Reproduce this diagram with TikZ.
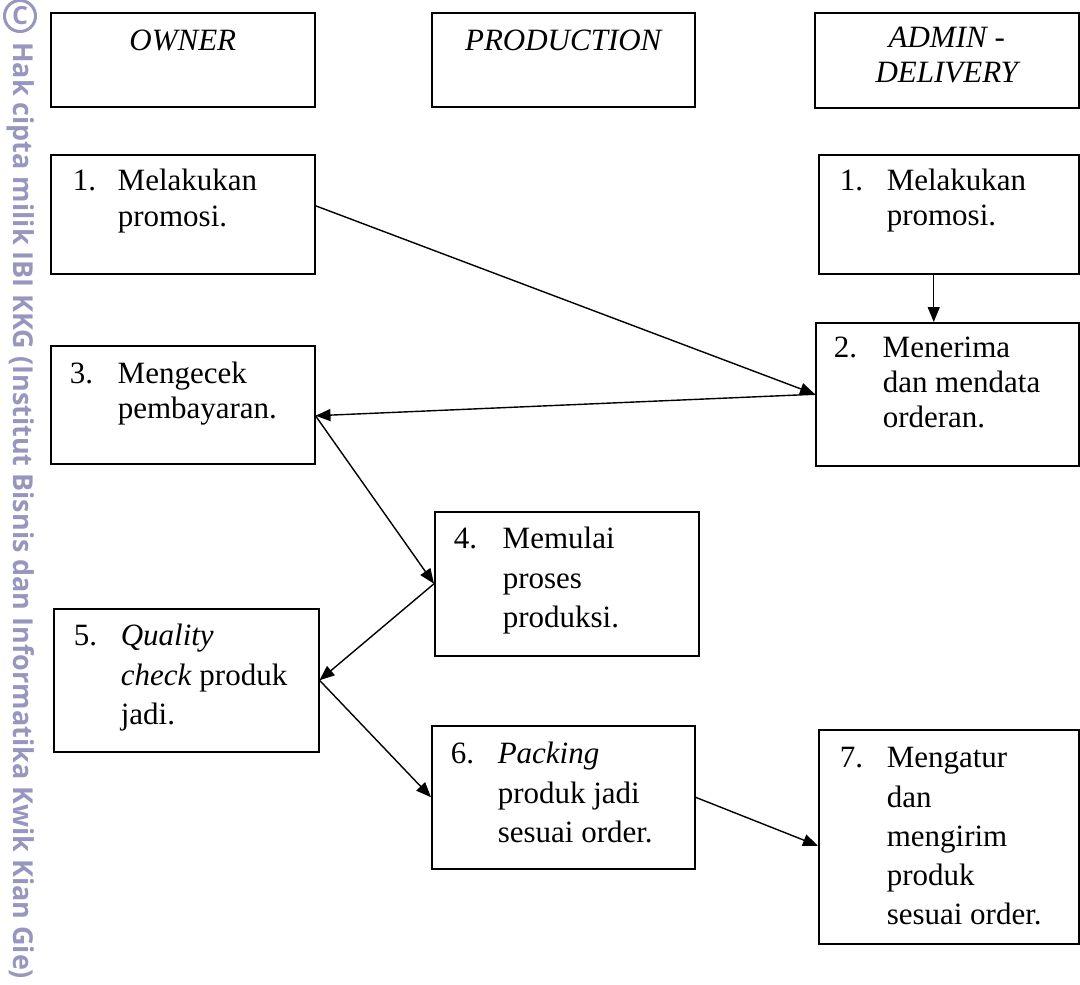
\documentclass[tikz,border=0pt]{standalone}
\usepackage{fontspec}
\setmainfont{Liberation Serif}
\newfontfamily\wmfont{Open Sans}
\usepackage{graphicx}
\usetikzlibrary{arrows.meta}
\definecolor{wm}{RGB}{150,150,190}
% #1 W, #2 H, #3 first baseline from top, #4 number x, #5 text x, #6 baselineskip, #7 number, #8 lines
\newcommand\boxtxt[8]{\parbox[t][#2pt][t]{#1pt}{\vspace*{\dimexpr#3pt-25pt\relax}%
\hspace*{#4pt}\rule{0pt}{25pt}\makebox[\dimexpr#5pt-#4pt\relax][l]{#7}%
\parbox[t]{\dimexpr#1pt-#5pt\relax}{\fontsize{31}{#6}\selectfont #8}}}
% #1 W, #2 H, #3 first baseline from top, #4 text
\newcommand\hdrtxt[4]{\parbox[t][#2pt][t]{#1pt}{\vspace*{\dimexpr#3pt-25pt\relax}%
\centering\itshape\rule{0pt}{25pt}#4}}
\begin{document}
\begin{tikzpicture}[x=1pt,y=-1pt,
  bx/.style={draw, line width=1.5pt, inner sep=0pt, anchor=north west,
    font=\fontsize{31}{35}\selectfont},
  arr/.style={line width=1.4pt, -{Triangle[length=15pt,width=12pt]}}]
\useasboundingbox (0,0) rectangle (1080,985);
% watermark
\node[circle, draw=wm, line width=3pt, minimum size=31pt, inner sep=0pt, text=wm,
  font=\wmfont\bfseries\fontsize{25}{25}\selectfont] (cc) at (20,16) {C};
\node[rotate=-90, anchor=base west, inner sep=0pt, text=wm, font=\wmfont\bfseries] (wmtext) at (13,42)
  {\resizebox{937pt}{21pt}{Hak cipta milik IBI KKG (Institut Bisnis dan Informatika Kwik Kian Gie)}};
% headers
\node[bx] (h1) at (50,12) {\hdrtxt{264}{94}{38}{OWNER}};
\node[bx] (h2) at (431,12) {\hdrtxt{263}{94}{38}{PRODUCTION}};
\node[bx] (h3) at (814,12) {\hdrtxt{264}{95}{35}{ADMIN -\\DELIVERY}};
% boxes
\node[bx] (o1) at (50,154) {\boxtxt{264}{119}{36}{22}{67}{36}{1.}{Melakukan\\promosi.}};
\node[bx] (o3) at (50,345) {\boxtxt{264}{118}{38}{19}{67}{35}{3.}{Mengecek\\pembayaran.}};
\node[bx] (a1) at (818,154) {\boxtxt{260}{119}{36}{21}{68}{35}{1.}{Melakukan\\promosi.}};
\node[bx] (a2) at (815,322) {\boxtxt{263}{143}{35}{18}{67}{35}{2.}{Menerima\\dan mendata\\orderan.}};
\node[bx] (p4) at (434,511) {\boxtxt{264}{144}{37}{19}{68}{39.5}{4.}{Memulai\\proses\\produksi.}};
\node[bx] (o5) at (53,608) {\boxtxt{265}{143}{37}{20}{67}{39.5}{5.}{\textit{Quality}\\\textit{check} produk\\jadi.}};
\node[bx] (p6) at (431,725) {\boxtxt{263}{143}{38}{19}{66}{39.5}{6.}{\textit{Packing}\\produk jadi\\sesuai order.}};
\node[bx] (a7) at (818,729) {\boxtxt{260}{214}{38}{21}{68}{39.3}{7.}{Mengatur\\dan\\mengirim\\produk\\sesuai order.}};
% connectors
\draw[arr] ([yshift=8.5pt]o1.east) -- (a2.west);
\draw[arr] ([xshift=-15pt]a1.south) -- ([xshift=-15pt]a1.south |- a2.north);
\draw[arr] (a2.west) -- ([yshift=-11pt]o3.east);
\draw[arr] ([yshift=-11pt]o3.east) -- (p4.west);
\draw[arr] (p4.west) -- (o5.east);
\draw[arr] (o5.east) -- (p6.west);
\draw[arr] (p6.east) -- ([yshift=-9pt]a7.west);
\end{tikzpicture}
\end{document}
